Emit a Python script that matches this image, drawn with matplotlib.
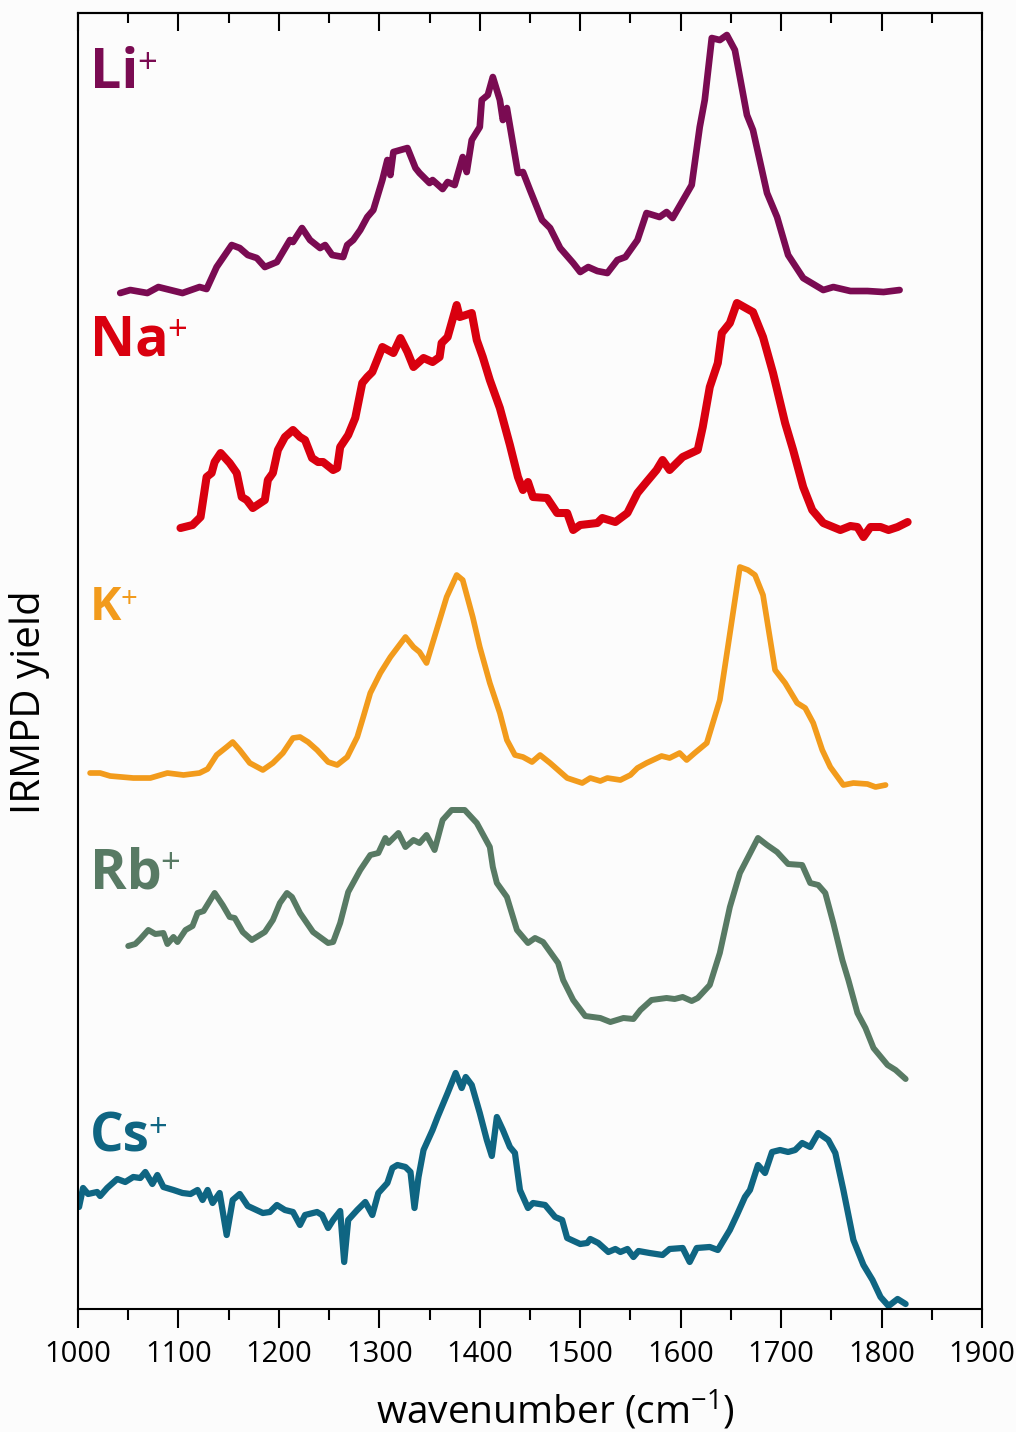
import matplotlib
matplotlib.use("Agg")
import matplotlib.pyplot as plt
from matplotlib.ticker import MultipleLocator

plt.rcParams['font.family'] = ['Open Sans', 'DejaVu Sans']
plt.rcParams['mathtext.default'] = 'regular'

# IRMPD spectra of the alkali-metal complexes (arbitrary yield units, stacked)
li_wn = [1042, 1052, 1069, 1080, 1092, 1104, 1121, 1128, 1138, 1153, 1161, 1169, 1178, 1186,
         1198, 1211, 1214, 1223, 1231, 1241, 1246, 1253, 1264, 1268, 1274, 1281, 1288, 1294,
         1303, 1308, 1311, 1314, 1328, 1336, 1340, 1350, 1353, 1363, 1368, 1375, 1383, 1387,
         1392, 1400, 1402, 1408, 1413, 1420, 1423, 1427, 1438, 1443, 1450, 1462, 1470, 1480,
         1493, 1500, 1508, 1517, 1527, 1537, 1545, 1557, 1566, 1579, 1586, 1592, 1611, 1619,
         1624, 1631, 1639, 1646, 1654, 1666, 1672, 1686, 1696, 1707, 1722, 1742, 1752, 1769,
         1786, 1802, 1818]
li_yield = [0.06, 0.09, 0.06, 0.12, 0.09, 0.06, 0.12, 0.10, 0.32, 0.54, 0.51, 0.44, 0.41, 0.32,
            0.37, 0.59, 0.57, 0.71, 0.59, 0.51, 0.54, 0.44, 0.42, 0.54, 0.59, 0.69, 0.82, 0.89,
            1.19, 1.39, 1.24, 1.47, 1.51, 1.31, 1.26, 1.16, 1.19, 1.10, 1.17, 1.14, 1.42, 1.27,
            1.59, 1.72, 1.99, 2.04, 2.22, 1.99, 1.79, 1.91, 1.26, 1.27, 1.09, 0.79, 0.71, 0.51,
            0.36, 0.27, 0.32, 0.28, 0.26, 0.39, 0.42, 0.59, 0.86, 0.82, 0.87, 0.81, 1.14, 1.72,
            1.99, 2.61, 2.59, 2.64, 2.49, 1.84, 1.69, 1.06, 0.82, 0.44, 0.21, 0.09, 0.12, 0.08,
            0.08, 0.07, 0.09]

na_wn = [1102, 1114, 1122, 1128, 1133, 1136, 1142, 1151, 1158, 1163, 1168, 1174, 1186, 1189,
         1194, 1199, 1206, 1214, 1221, 1226, 1233, 1239, 1244, 1254, 1258, 1261, 1269, 1276,
         1283, 1288, 1293, 1303, 1314, 1321, 1328, 1334, 1344, 1353, 1360, 1362, 1368, 1377,
         1380, 1392, 1397, 1403, 1410, 1420, 1430, 1438, 1443, 1448, 1453, 1467, 1477, 1487,
         1493, 1500, 1517, 1522, 1535, 1547, 1557, 1566, 1576, 1582, 1589, 1602, 1617, 1622,
         1629, 1637, 1641, 1649, 1656, 1672, 1682, 1692, 1704, 1712, 1722, 1731, 1742, 1759,
         1769, 1776, 1782, 1789, 1799, 1807, 1816, 1826]
na_yield = [0.11, 0.14, 0.22, 0.62, 0.66, 0.77, 0.86, 0.76, 0.66, 0.42, 0.39, 0.31, 0.39, 0.59,
            0.66, 0.89, 1.02, 1.09, 1.02, 0.99, 0.81, 0.77, 0.77, 0.69, 0.71, 0.92, 1.04, 1.21,
            1.56, 1.62, 1.67, 1.92, 1.86, 2.01, 1.87, 1.72, 1.81, 1.77, 1.82, 1.96, 2.02, 2.34,
            2.22, 2.26, 1.99, 1.82, 1.59, 1.31, 0.94, 0.62, 0.49, 0.57, 0.42, 0.41, 0.26, 0.26,
            0.09, 0.14, 0.16, 0.21, 0.17, 0.26, 0.46, 0.57, 0.69, 0.79, 0.69, 0.82, 0.89, 1.12,
            1.52, 1.76, 2.06, 2.16, 2.36, 2.27, 2.02, 1.66, 1.16, 0.89, 0.52, 0.29, 0.16, 0.09,
            0.13, 0.12, 0.02, 0.12, 0.12, 0.09, 0.12, 0.17]

k_wn = [1012, 1022, 1032, 1055, 1072, 1089, 1105, 1121, 1129, 1138, 1148, 1154, 1161, 1171,
        1184, 1194, 1204, 1214, 1221, 1229, 1238, 1249, 1258, 1268, 1278, 1284, 1291, 1301,
        1311, 1326, 1334, 1340, 1347, 1357, 1367, 1377, 1383, 1393, 1400, 1410, 1420, 1427,
        1435, 1443, 1452, 1460, 1470, 1487, 1502, 1510, 1520, 1527, 1540, 1550, 1557, 1566,
        1581, 1589, 1599, 1606, 1614, 1626, 1639, 1647, 1659, 1667, 1674, 1682, 1694, 1704,
        1716, 1724, 1732, 1741, 1749, 1762, 1772, 1786, 1794, 1804]
k_yield = [0.16, 0.16, 0.13, 0.11, 0.11, 0.16, 0.14, 0.16, 0.20, 0.34, 0.42, 0.47, 0.39, 0.26,
           0.19, 0.26, 0.36, 0.51, 0.52, 0.47, 0.39, 0.27, 0.24, 0.32, 0.52, 0.72, 0.96, 1.16,
           1.32, 1.52, 1.42, 1.37, 1.26, 1.59, 1.92, 2.14, 2.09, 1.72, 1.42, 1.06, 0.76, 0.49,
           0.34, 0.32, 0.27, 0.34, 0.26, 0.11, 0.06, 0.11, 0.08, 0.11, 0.09, 0.14, 0.21, 0.26,
           0.33, 0.31, 0.36, 0.29, 0.36, 0.46, 0.89, 1.42, 2.22, 2.19, 2.14, 1.94, 1.19, 1.06,
           0.86, 0.81, 0.66, 0.39, 0.22, 0.04, 0.06, 0.05, 0.02, 0.04]

rb_wn = [1050, 1057, 1062, 1070, 1077, 1085, 1089, 1095, 1099, 1107, 1114, 1119, 1125, 1136,
         1144, 1151, 1156, 1164, 1173, 1186, 1194, 1201, 1208, 1213, 1221, 1234, 1249, 1254,
         1261, 1269, 1281, 1291, 1299, 1306, 1309, 1319, 1326, 1334, 1340, 1347, 1355, 1363,
         1372, 1385, 1397, 1410, 1413, 1417, 1427, 1437, 1448, 1455, 1463, 1478, 1483, 1493,
         1505, 1520, 1530, 1543, 1553, 1560, 1571, 1586, 1594, 1602, 1611, 1617, 1629, 1639,
         1649, 1659, 1677, 1686, 1696, 1707, 1721, 1729, 1737, 1744, 1752, 1761, 1767, 1776,
         1784, 1792, 1806, 1814, 1824]
rb_yield = [1.33, 1.35, 1.40, 1.49, 1.45, 1.46, 1.35, 1.42, 1.37, 1.49, 1.53, 1.66, 1.68, 1.86,
            1.74, 1.62, 1.61, 1.47, 1.39, 1.47, 1.59, 1.76, 1.86, 1.82, 1.66, 1.47, 1.36, 1.37,
            1.56, 1.87, 2.09, 2.24, 2.26, 2.41, 2.36, 2.46, 2.32, 2.39, 2.36, 2.44, 2.29, 2.59,
            2.69, 2.69, 2.56, 2.32, 2.12, 1.96, 1.82, 1.49, 1.36, 1.41, 1.37, 1.16, 0.99, 0.79,
            0.63, 0.61, 0.57, 0.61, 0.60, 0.69, 0.79, 0.81, 0.80, 0.82, 0.78, 0.81, 0.94, 1.26,
            1.72, 2.06, 2.41, 2.34, 2.27, 2.15, 2.14, 1.96, 1.94, 1.86, 1.56, 1.19, 0.99, 0.66,
            0.51, 0.31, 0.14, 0.09, 0.00]

cs_wn = [1001, 1005, 1010, 1019, 1022, 1029, 1039, 1047, 1055, 1062, 1067, 1074, 1079, 1085,
         1095, 1104, 1112, 1119, 1124, 1129, 1134, 1141, 1148, 1154, 1161, 1169, 1184, 1191,
         1198, 1206, 1214, 1221, 1226, 1238, 1243, 1249, 1254, 1261, 1265, 1269, 1278, 1286,
         1293, 1299, 1308, 1313, 1318, 1326, 1331, 1335, 1339, 1344, 1353, 1358, 1368, 1376,
         1382, 1386, 1392, 1400, 1407, 1412, 1417, 1423, 1430, 1435, 1440, 1448, 1453, 1465,
         1475, 1482, 1487, 1500, 1507, 1510, 1518, 1528, 1535, 1540, 1547, 1553, 1558, 1569,
         1582, 1589, 1602, 1609, 1616, 1629, 1637, 1649, 1656, 1664, 1669, 1677, 1684, 1691,
         1699, 1707, 1714, 1721, 1729, 1737, 1747, 1754, 1762, 1772, 1782, 1791, 1799, 1807,
         1816, 1824]
cs_yield = [1.02, 1.21, 1.15, 1.17, 1.13, 1.21, 1.30, 1.27, 1.32, 1.31, 1.37, 1.25, 1.34, 1.22,
            1.19, 1.16, 1.15, 1.19, 1.09, 1.19, 1.06, 1.16, 0.74, 1.09, 1.15, 1.03, 0.96, 0.97,
            1.04, 0.99, 0.97, 0.84, 0.94, 0.97, 0.94, 0.81, 0.89, 0.98, 0.47, 0.89, 0.99, 1.07,
            0.94, 1.16, 1.26, 1.41, 1.44, 1.42, 1.37, 1.01, 1.32, 1.59, 1.79, 1.92, 2.16, 2.36,
            2.21, 2.32, 2.24, 1.96, 1.69, 1.53, 1.92, 1.79, 1.62, 1.56, 1.19, 1.01, 1.06, 1.04,
            0.92, 0.89, 0.71, 0.65, 0.66, 0.70, 0.66, 0.57, 0.60, 0.57, 0.60, 0.52, 0.58, 0.56,
            0.54, 0.60, 0.61, 0.47, 0.61, 0.62, 0.59, 0.79, 0.94, 1.12, 1.19, 1.44, 1.36, 1.57,
            1.59, 1.57, 1.59, 1.66, 1.62, 1.76, 1.69, 1.56, 1.19, 0.69, 0.44, 0.29, 0.12, 0.03,
            0.10, 0.05]

ions = ['Li', 'Na', 'K', 'Rb', 'Cs']
offsets = [10.10, 7.70, 5.20, 2.30, 0.0]
wavenumbers = [li_wn, na_wn, k_wn, rb_wn, cs_wn]
yields = [li_yield, na_yield, k_yield, rb_yield, cs_yield]

colors = ['#7a0b52', '#d9000f', '#f29b1c', '#587a64', '#0f6582']
widths = [4.8, 5.8, 4.1, 4.3, 4.5]
label_y = [12.21, 9.54, 6.89, 4.21, 1.57]
label_size = [40, 40, 34, 40, 38]

fig = plt.figure(figsize=(10.16, 14.32), dpi=100, facecolor='#fcfcfc')
ax = fig.add_axes([0.0768, 0.0859, 0.8897, 0.905])
ax.set_facecolor('#fcfcfc')

for ion, off, wn, y, c, lw, ly, fs in zip(ions, offsets, wavenumbers, yields,
                                          colors, widths, label_y, label_size):
    ax.plot(wn, [off + v for v in y], color=c, lw=lw,
            solid_joinstyle='round', solid_capstyle='round')
    t = ax.text(1012, ly, ion, color=c, fontsize=fs, fontweight='bold',
                ha='left', va='baseline')
    # superscript charge, tucked against the top-right corner of the symbol
    ax.annotate('+', xy=(1, 1), xycoords=t, xytext=(-1, -1), textcoords='offset points',
                color=c, fontsize=fs * 0.62, ha='left', va='top')

ax.set_xlim(1000, 1900)
ax.set_ylim(0, 12.96)
ax.set_yticks([])

ax.xaxis.set_major_locator(MultipleLocator(100))
ax.xaxis.set_minor_locator(MultipleLocator(50))
ax.tick_params(axis='x', which='major', direction='out', length=13.5, width=1.5,
               labelsize=21, pad=9)
ax.tick_params(axis='x', which='minor', direction='out', length=8, width=1.5)

top = ax.secondary_xaxis('top')
top.xaxis.set_major_locator(MultipleLocator(100))
top.xaxis.set_minor_locator(MultipleLocator(50))
top.tick_params(axis='x', which='major', direction='in', length=13, width=1.5,
                labeltop=False)
top.tick_params(axis='x', which='minor', direction='in', length=7.5, width=1.5)
top.spines['top'].set_linewidth(1.5)

for s in ax.spines.values():
    s.set_linewidth(1.5)

ax.set_xlabel('wavenumber (cm$^{-1}$)', fontsize=28, labelpad=10)
ax.xaxis.set_label_coords(0.528, -0.062)
ax.set_ylabel('IRMPD yield', fontsize=29, labelpad=14)
ax.yaxis.set_label_coords(-0.031, 0.468)

fig.savefig('out.png', dpi=100, facecolor=fig.get_facecolor())
